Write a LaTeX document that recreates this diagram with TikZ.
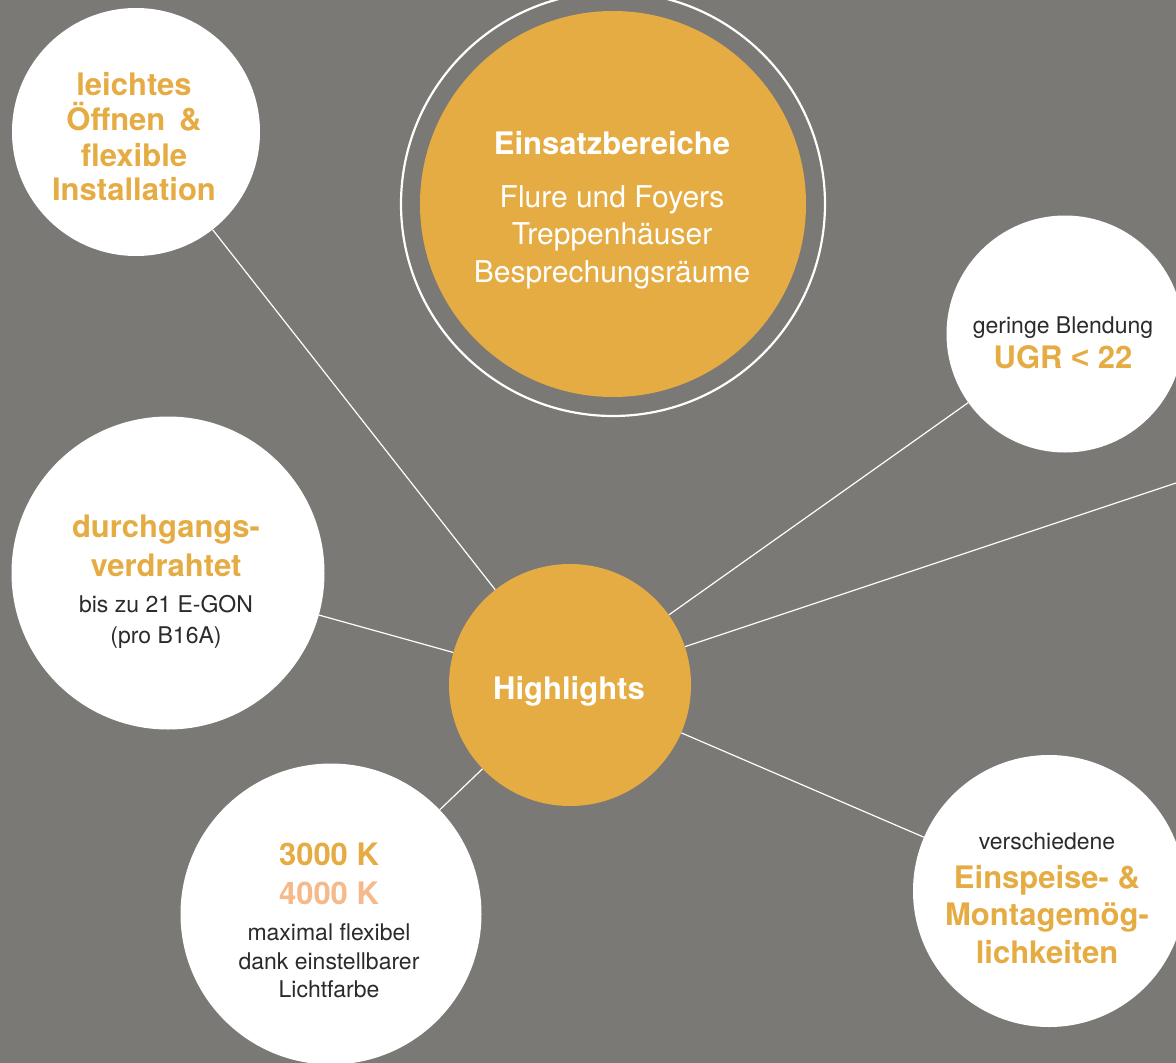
\documentclass[tikz,border=0pt]{standalone}
\usepackage{fontspec}
\setmainfont{TeX Gyre Heros}
\newfontfamily\arialfont{Liberation Sans}
\usepackage{xcolor}
\definecolor{bggray}{HTML}{7B7975}
\definecolor{amber}{HTML}{E6AC44}
\definecolor{peach}{HTML}{F5B98A}
\definecolor{ink}{HTML}{2B2B2B}

\tikzset{
  bubble/.style={circle, fill=white, inner sep=0pt, minimum size=#1},
  hub/.style={circle, fill=amber, inner sep=0pt, minimum size=#1},
  link/.style={white, line width=1.2pt},
  big/.style={anchor=base, font=\fontsize{31}{37}\selectfont\bfseries, text=amber},
  small/.style={anchor=base, font=\fontsize{23}{28}\selectfont, text=ink},
  thin/.style={anchor=base, font=\fontsize{30}{36}\selectfont, text=white},
}

\begin{document}
\begin{tikzpicture}[x=1pt, y=-1pt]
\fill[bggray] (0,0) rectangle (1176,1063);
\useasboundingbox (0,0) rectangle (1176,1063);
\clip (0,0) rectangle (1176,1063);

% circles
\node[hub=386pt] (areas) at (613,204) {};
\draw[white, line width=2.2pt] (areas.center) circle (212);
\node[hub=242pt] (hl) at (570,685) {};
\node[bubble=248pt] (open) at (136,132) {};
\node[bubble=313pt] (wire) at (168,573) {};
\node[bubble=237pt] (ugr) at (1065,334) {};
\node[bubble=301pt] (cct) at (331,914) {};
\node[bubble=272pt] (feed) at (1049,891) {};
\coordinate (off) at (1476,383);

% connectors
\draw[link] (hl) -- (open);
\draw[link] (hl) -- (wire);
\draw[link] (hl) -- (ugr);
\draw[link] (hl) -- (off);
\draw[link] (hl) -- (feed);
\draw[link] (hl) -- (cct);

% texts
\node[big, text=white] (hl-t) at (569,699) {Highlights};

\node[big, text=white] (areas-t) at (612,154) {Einsatzbereiche};
\node[thin] (areas-a) at (612,207) {Flure und Foyers};
\node[thin] (areas-b) at (612,244) {Treppenhäuser};
\node[thin] (areas-c) at (612,282) {Besprechungsräume};

\node[big] (open-a) at (134,95) {leichtes};
\node[big] (open-b) at (134,130) {Öffnen \,\&};
\node[big] (open-c) at (134,166) {flexible};
\node[big] (open-d) at (134,200) {Installation};

\node[small] (ugr-a) at (1063,333) {geringe Blendung};
\node[big] (ugr-b) at (1063,368) {UGR {\arialfont <} 22};

\node[big] (wire-a) at (166,537) {durchgangs-};
\node[big] (wire-b) at (166,576) {verdrahtet};
\node[small] (wire-c) at (166,612) {bis zu 21 E-GON};
\node[small] (wire-d) at (166,643) {(pro B16A)};

\node[big] (cct-a) at (329,865) {3000 K};
\node[big, text=peach] (cct-b) at (329,904) {4000 K};
\node[small] (cct-c) at (329,940) {maximal flexibel};
\node[small] (cct-d) at (329,969) {dank einstellbarer};
\node[small] (cct-e) at (329,997) {Lichtfarbe};

\node[small] (feed-a) at (1047,849) {verschiedene};
\node[big] (feed-b) at (1047,888) {Einspeise- \&};
\node[big] (feed-c) at (1047,925) {Montagemög-};
\node[big] (feed-d) at (1047,963) {lichkeiten};
\end{tikzpicture}
\end{document}
